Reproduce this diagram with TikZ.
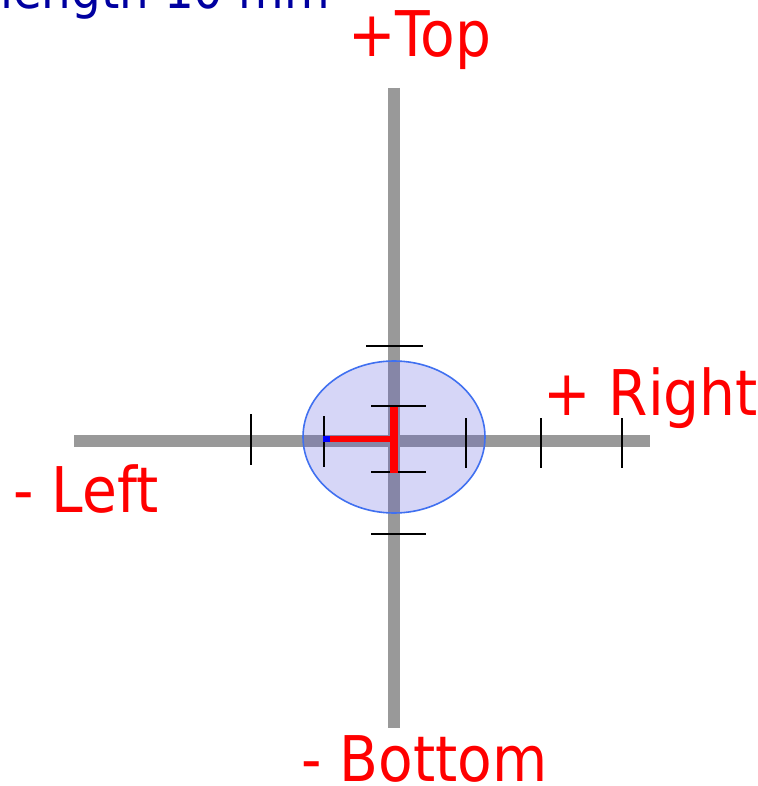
\documentclass[tikz,border=0pt]{standalone}
\usepackage{fontspec}
\usetikzlibrary{shapes.geometric}
\setmainfont[FakeStretch=0.9]{DejaVu Sans}
\definecolor{axisgray}{RGB}{153,153,153}
\definecolor{lblred}{RGB}{255,0,0}
\definecolor{lenblue}{RGB}{0,0,160}
\definecolor{ellborder}{RGB}{64,112,240}
\definecolor{ellfill}{RGB}{70,70,220}
\definecolor{tblue}{RGB}{0,0,255}
\tikzset{
  axisbar/.style={draw=axisgray, line width=11.5pt},
  tickmark/.style={draw=black, line width=1.8pt},
  redbar/.style={draw=lblred, line width=6.5pt},
  dirlabel/.style={text=lblred, font=\fontsize{63}{70}\selectfont, inner sep=0pt, anchor=base west},
}
\begin{document}
\begin{tikzpicture}[x=1pt,y=-1pt]
\useasboundingbox (0,0) rectangle (757,786);
% axes
\coordinate (vtop) at (394,88);
\coordinate (vbot) at (394,728);
\coordinate (hleft) at (74,441);
\coordinate (hright) at (650,441);
\draw[axisbar] (vtop) -- (vbot);
\draw[axisbar] (hleft) -- (hright);
% ellipse
\node (ell) [ellipse, minimum width=182pt, minimum height=152pt, inner sep=0pt,
  fill=ellfill, fill opacity=0.22, draw=ellborder, draw opacity=1, line width=1.6pt] at (394,437) {};
% vertical ticks on horizontal axis
\foreach \x/\a/\b in {251/414/465, 324/416/467, 466/418/468, 541/418/468, 622/418/468}{
  \draw[tickmark] (\x,\a) -- (\x,\b);
}
% horizontal ticks on vertical axis
\foreach \y/\a/\b in {346/366/423, 406/371/426, 472/371/426, 534/371/426}{
  \draw[tickmark] (\a,\y) -- (\b,\y);
}
% red T
\coordinate (tl) at (330,439);
\coordinate (tc) at (394,439);
\coordinate (tt) at (394,407);
\coordinate (tb) at (394,473);
\draw[redbar] (tl) -- (tc);
\draw[draw=lblred, line width=7.5pt] (tt) -- (tb);
\fill[tblue] (323,435.8) rectangle (330,442.2);
% labels
\node (top) [dirlabel] at (348,57) {+Top};
\node (right) [dirlabel] at (543,415) {+ Right};
\node (left) [dirlabel] at (13,512) {- Left};
\node (bottom) [dirlabel] at (301,781) {- Bottom};
\node (len) [text=lenblue, font=\fontsize{52}{60}\selectfont, inner sep=0pt, anchor=base east] at (330,9) {length 10 mm};
\end{tikzpicture}
\end{document}
